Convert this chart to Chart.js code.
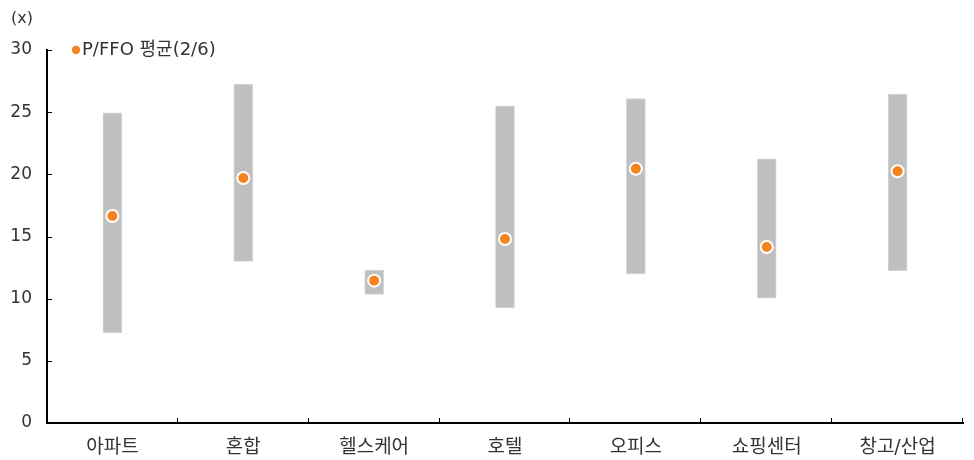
<!DOCTYPE html>
<html>
<head>
<meta charset="utf-8">
<script src="https://cdn.jsdelivr.net/npm/chart.js@4.4.1/dist/chart.umd.min.js"></script>
<style>
  html, body { margin: 0; padding: 0; background: #fff; }
  #wrap { position: relative; width: 974px; height: 460px; }
</style>
</head>
<body>
<div id="wrap"><canvas id="c" width="974" height="460"></canvas></div>
<script>
// REIT sectors and their P/FFO ranges
const categories = ['아파트', '혼합', '헬스케어', '호텔', '오피스', '쇼핑센터', '창고/산업'];
const rangeLow  = [7.25, 13.0, 10.35, 9.25, 12.0, 10.05, 12.25];
const rangeHigh = [24.95, 27.25, 12.3, 25.5, 26.1, 21.25, 26.45];
const avgValues = [16.65, 19.7, 11.45, 14.8, 20.45, 14.15, 20.25];
const yTicks = [0, 5, 10, 15, 20, 25, 30];
const legendLabel = 'P/FFO 평균(2/6)';
const unitLabel = '(x)';

const FONT = '"DejaVu Sans", "Noto Sans CJK KR", sans-serif';
const TEXT = '#333333';
const ORANGE = '#f5841f';

const rangeData = categories.map((_, i) => [rangeLow[i], rangeHigh[i]]);

// Inward tick marks, unit label and the legend entry
const decorations = {
  id: 'decorations',
  afterDraw(chart) {
    const ctx = chart.ctx;
    const x = chart.scales.x, y = chart.scales.y;
    const area = chart.chartArea;
    ctx.save();
    ctx.strokeStyle = '#000';
    ctx.lineWidth = 1;
    // y ticks pointing into the plot
    yTicks.forEach(v => {
      const py = Math.round(y.getPixelForValue(v)) + 0.5;
      ctx.beginPath();
      ctx.moveTo(area.left, py);
      ctx.lineTo(area.left + 5, py);
      ctx.stroke();
    });
    // x ticks at category boundaries, pointing up
    const step = (area.right - area.left) / categories.length;
    for (let i = 1; i <= categories.length; i++) {
      const px = Math.round(x.getPixelForValue(i - 1) + step / 2) - 0.5;
      ctx.beginPath();
      ctx.moveTo(px, area.bottom);
      ctx.lineTo(px, area.bottom - 5);
      ctx.stroke();
    }
    // unit label
    ctx.fillStyle = TEXT;
    ctx.font = '16px ' + FONT;
    ctx.textAlign = 'left';
    ctx.textBaseline = 'middle';
    ctx.fillText(unitLabel, 11, 19);
    // legend
    ctx.fillStyle = ORANGE;
    ctx.beginPath();
    ctx.arc(76, 50, 4.2, 0, Math.PI * 2);
    ctx.fill();
    ctx.fillStyle = TEXT;
    ctx.font = '18px ' + FONT;
    ctx.fillText(legendLabel, 82, 50);
    ctx.restore();
  }
};

new Chart(document.getElementById('c'), {
  data: {
    labels: categories,
    datasets: [
      {
        type: 'line',
        label: legendLabel,
        data: avgValues,
        showLine: false,
        pointRadius: 6,
        pointHoverRadius: 6,
        pointBorderWidth: 2,
        pointBorderColor: '#ffffff',
        pointBackgroundColor: ORANGE,
        order: 0
      },
      {
        type: 'bar',
        label: 'P/FFO 범위',
        data: rangeData,
        backgroundColor: '#bfbfbf',
        borderColor: '#d6d6d6',
        borderWidth: 1,
        borderSkipped: false,
        barThickness: 19,
        order: 1
      }
    ]
  },
  options: {
    responsive: false,
    animation: false,
    devicePixelRatio: 1,
    layout: { padding: { top: 50, right: 11, left: 0, bottom: 0 } },
    plugins: {
      legend: { display: false },
      tooltip: { enabled: false }
    },
    scales: {
      x: {
        offset: true,
        grid: { display: false, drawTicks: false },
        border: { display: true, color: '#000', width: 2 },
        ticks: { color: TEXT, font: { family: FONT, size: 19 }, padding: 14, maxRotation: 0 },
        afterFit(s) { s.height = 37; }
      },
      y: {
        min: 0,
        max: 30,
        afterBuildTicks(s) { s.ticks = yTicks.map(v => ({ value: v })); },
        grid: { display: false, drawTicks: false },
        border: { display: true, color: '#000', width: 2 },
        ticks: { color: TEXT, font: { family: FONT, size: 17 }, padding: 15 },
        afterFit(s) { s.width = 47; }
      }
    }
  },
  plugins: [decorations]
});
</script>
</body>
</html>
